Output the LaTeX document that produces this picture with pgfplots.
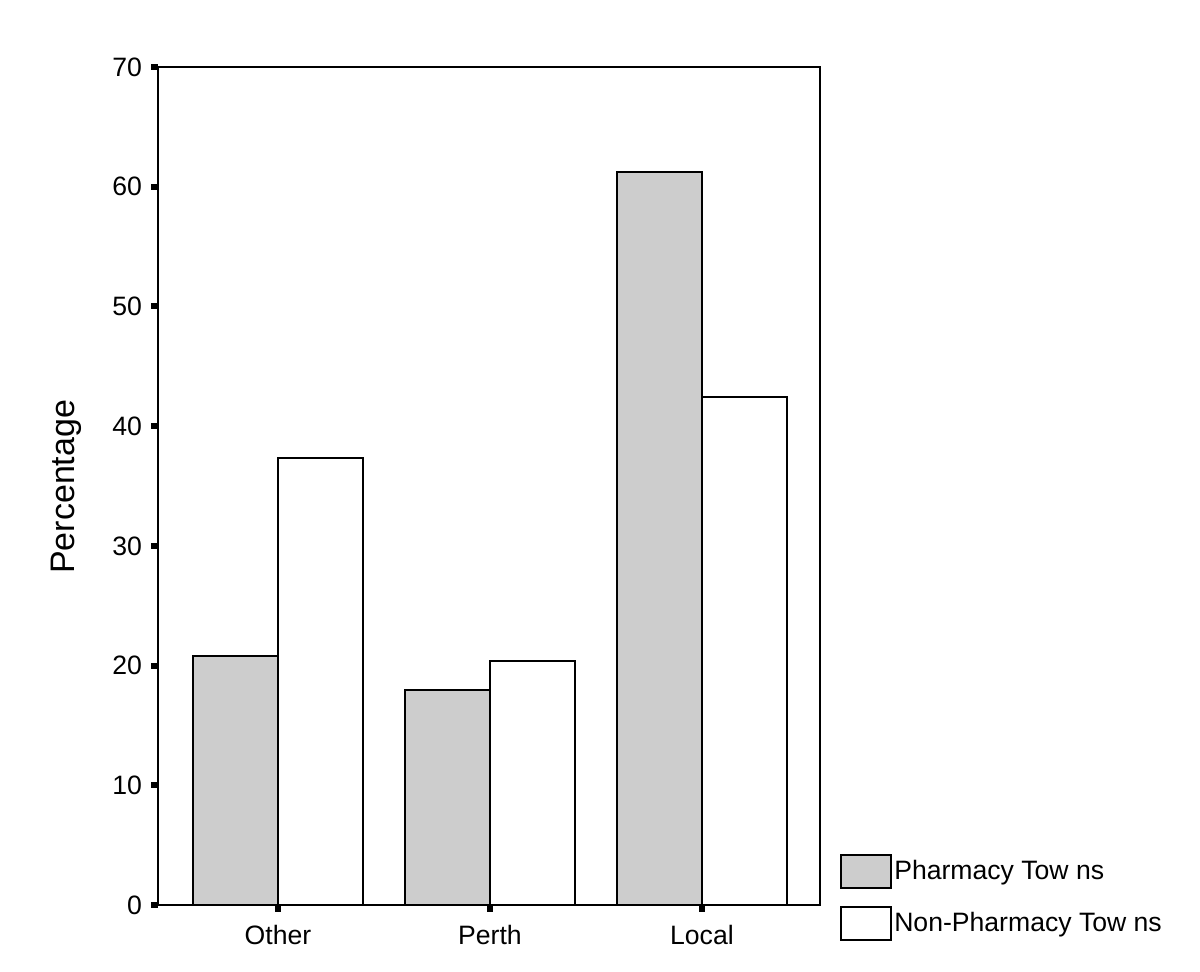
\documentclass[border=0pt]{standalone}
\usepackage{pgfplots}
\pgfplotsset{compat=1.18}
\usepackage{fontspec}
\setmainfont{Liberation Sans}
\definecolor{dotgray}{RGB}{205,205,205}

\begin{document}
\begin{tikzpicture}
\begin{axis}[
    scale only axis,
    width=331pt, height=419pt,
    xmin=-0.566, xmax=2.557,
    ymin=0, ymax=70,
    ybar, bar width=42.5pt,
    xtick={0,1,2}, xticklabels={Other,Perth,Local},
    ytick={0,10,...,70},
    xtick pos=bottom, ytick pos=left,
    tick align=outside,
    major tick length=3.5pt,
    tick style={line width=3pt, black},
    axis line style={line width=1pt},
    font=\fontsize{13.3}{16}\selectfont,
    /pgf/number format/assume math mode=true,
    yticklabel style={xshift=-1pt},
    xticklabel style={yshift=-3pt},
    ylabel={Percentage},
    ylabel style={font=\fontsize{17}{20}\selectfont, at={(rel axis cs:-0.139,0.499)}, anchor=center},
    clip=false,
    legend cell align=left,
    legend image code/.code={\draw[#1, line width=1pt] (0pt,-8.25pt) rectangle (25pt,8.25pt);},
    legend style={draw=none, fill=none, at={(rel axis cs:1.03,0.0609)}, anchor=north west,
        inner sep=0pt, row sep=8.5pt, font=\fontsize{13.3}{16}\selectfont,
        nodes={inner xsep=1pt}},
]
\addplot[bar shift=-21.25pt, draw=black, line width=1pt, fill=dotgray]
  coordinates {(0,20.8) (1,18.0) (2,61.2)};
\addlegendentry{Pharmacy Tow ns}
\addplot[bar shift=21.25pt, draw=black, line width=1pt, fill=white]
  coordinates {(0,37.3) (1,20.4) (2,42.4)};
\addlegendentry{Non-Pharmacy Tow ns}
\path (rel axis cs:-0.2387,-0.07995) coordinate (bl);
\path (rel axis cs:1.574,1.07995) coordinate (tr);
\end{axis}
\pgfresetboundingbox
\path[use as bounding box] (bl) rectangle (tr);
\end{tikzpicture}
\end{document}
